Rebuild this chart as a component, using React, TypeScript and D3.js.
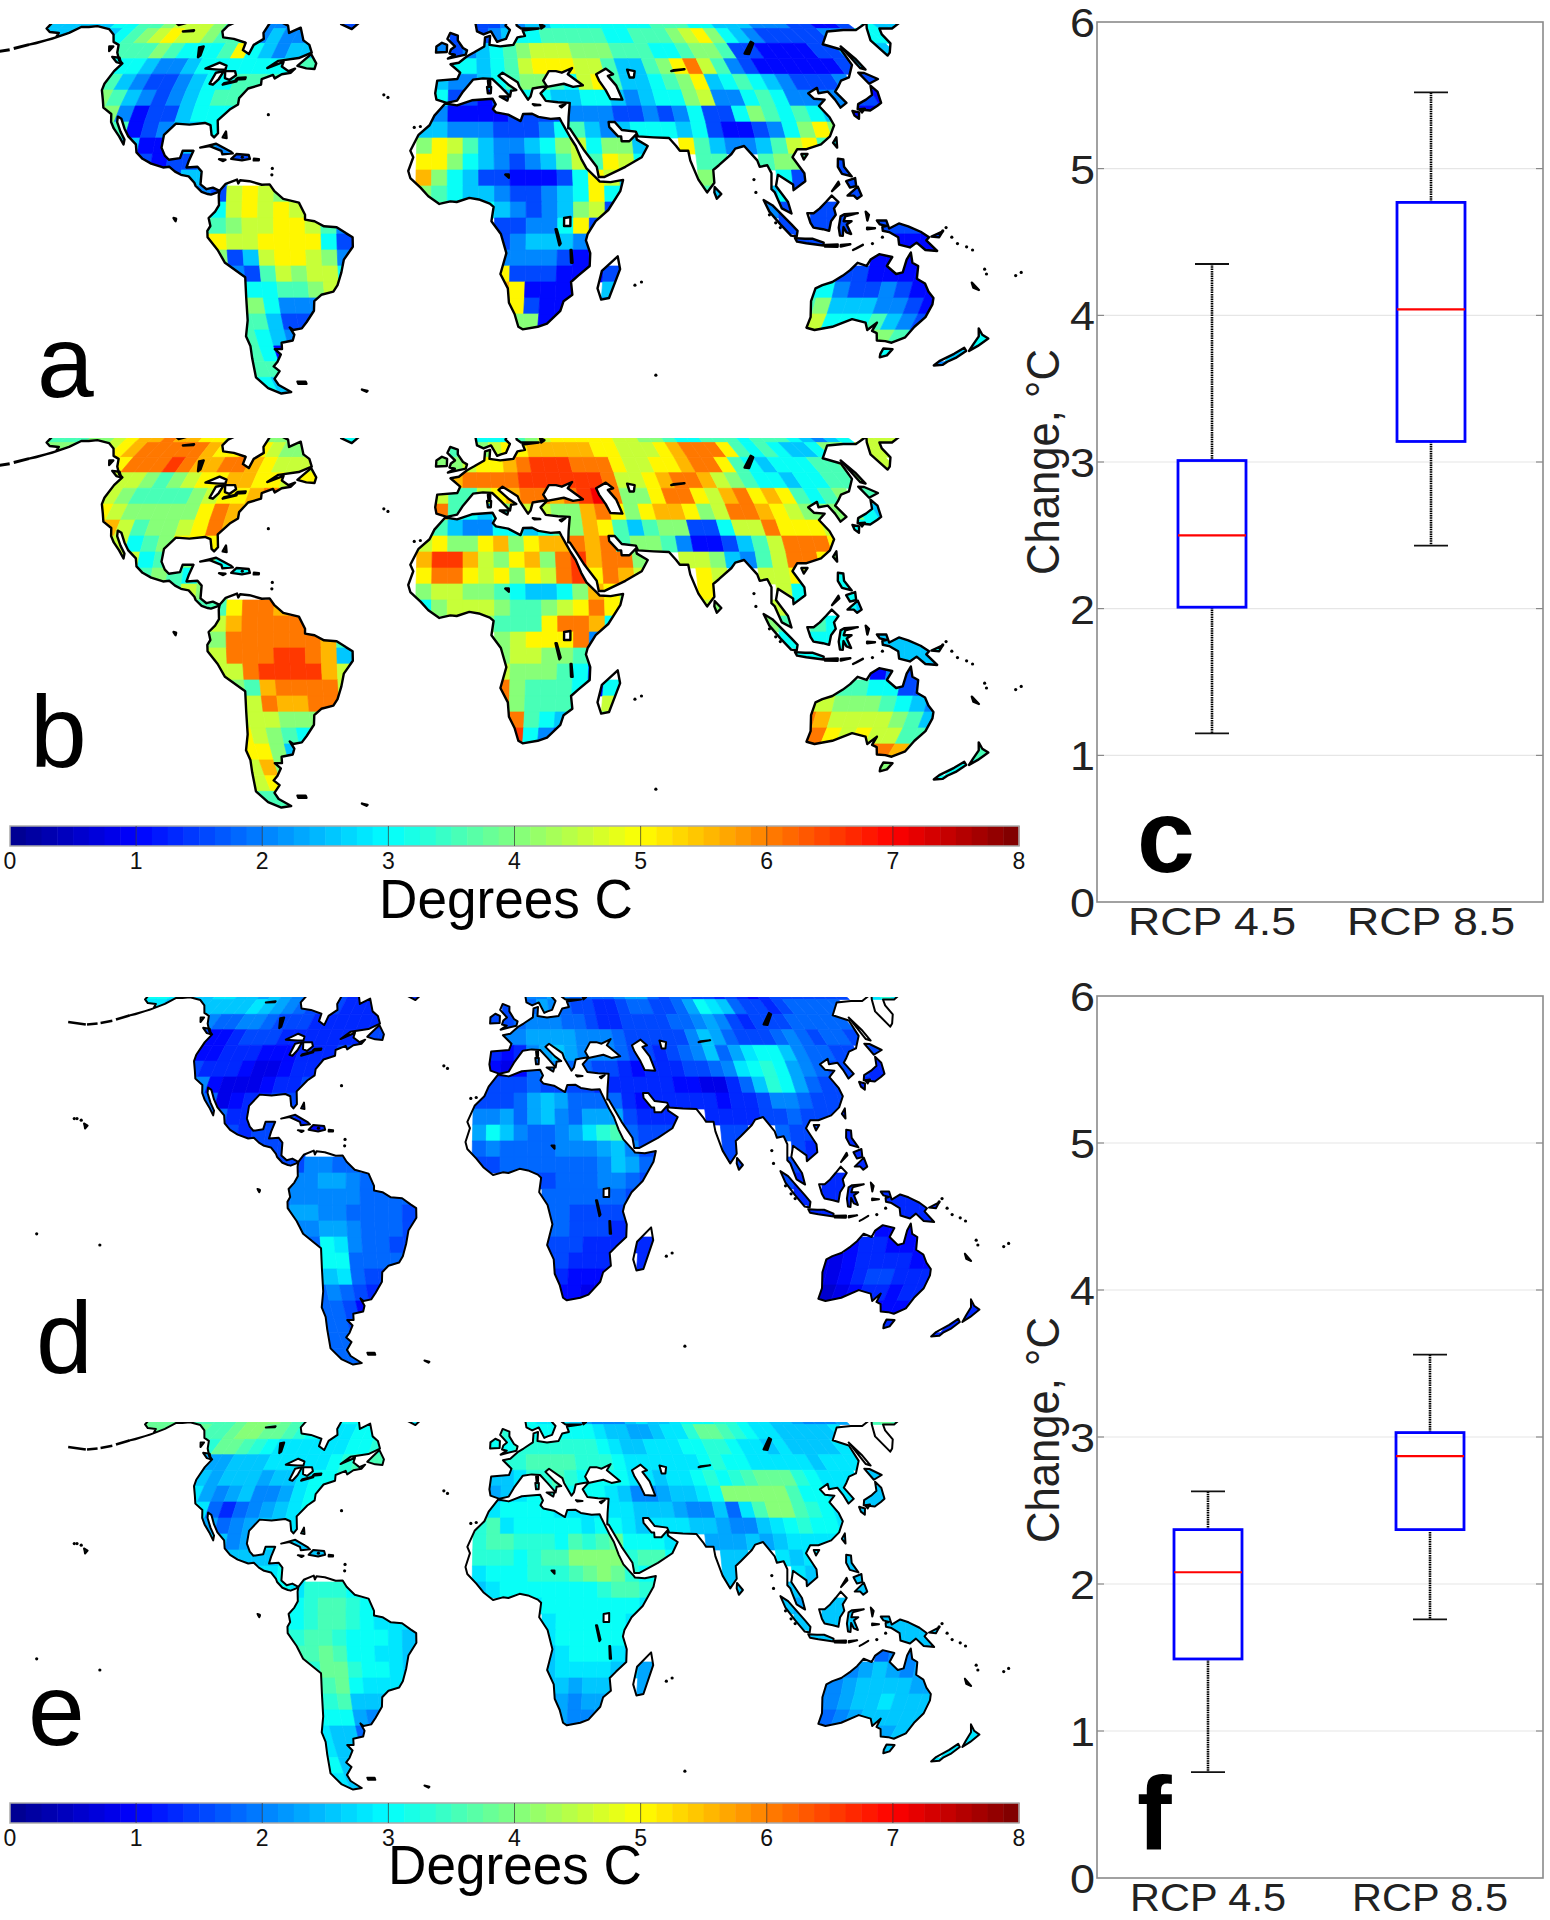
import React from 'react';
import * as d3 from 'd3';

type Pt = [number, number];
type Row = [number, number, string];

// Robinson projection table, 5 degree steps
const robinsonLats = d3.range(0, 95, 5);
const robinsonLen = [1, 0.9986, 0.9954, 0.99, 0.9822, 0.973, 0.96, 0.9427, 0.9216, 0.8962, 0.8679, 0.835, 0.7986, 0.7597, 0.7186, 0.6732, 0.6213, 0.5722, 0.5322];
const robinsonDist = [0, 0.062, 0.124, 0.186, 0.248, 0.31, 0.372, 0.434, 0.4958, 0.5571, 0.6176, 0.6769, 0.7346, 0.7903, 0.8435, 0.8936, 0.9394, 0.9761, 1];

// Coastlines, [lon, lat]
const northAmerica: Pt[] = [[-168,66],[-164,66.5],[-162,64.5],[-165,64.5],[-166,62],[-165,60],[-162,58.8],[-158,58.5],[-157,57],[-162,55],[-164,54.6],[-158,56.5],[-154,58.5],[-152,60.5],[-149,60.5],[-146,60.8],[-140,59.8],[-136,58],[-133,55.5],[-130,54.5],[-128,52],[-125,49.5],[-123,48.5],[-124,46],[-124.5,42],[-124,40],[-122,37],[-120.5,34.5],[-117,32.5],[-116,30],[-114.5,28],[-112,25.5],[-110,23],[-110,24.5],[-112,27],[-114,30],[-114.5,31.7],[-113,31],[-111,28],[-109,25.5],[-106,23],[-105.3,20.5],[-103,18.5],[-100,17],[-96,15.8],[-94,16],[-92,14.5],[-90,13.5],[-87.5,13],[-85.5,11],[-85,10],[-83,8.2],[-81,7.5],[-80,7.3],[-78,8],[-77.3,8.5],[-79.5,9.5],[-81.5,9],[-83.5,10.5],[-83.5,14.5],[-85,16],[-88.5,15.8],[-88,18],[-87,21],[-90.5,21],[-91,18.7],[-94.5,18.2],[-96,19.5],[-97.5,22],[-97.5,26],[-94.5,29.5],[-90,29.2],[-85,29.7],[-83,29],[-82,26],[-81,25.2],[-80,26.5],[-81,30.5],[-78,33.9],[-75.7,35.5],[-76,37.5],[-74,40.5],[-70,41.7],[-70.5,43.5],[-67,44.8],[-66,43.7],[-64,45],[-61,45.5],[-60,46.8],[-62,46],[-65,47.5],[-65,49],[-70,47],[-67,49.3],[-60,50.2],[-56,52],[-58,54.5],[-61,56],[-64.5,60.3],[-68,58.5],[-70,61],[-74,62.3],[-78,62.4],[-78,58.5],[-76.5,56.5],[-79,54.5],[-79,51.5],[-82,52.8],[-82.5,55.2],[-88,56.5],[-92.5,57],[-94.5,59],[-94,61],[-90,63.5],[-88,64.5],[-86,66],[-86,72],[-168,72]];
const southAmerica: Pt[] = [[-77.3,8.5],[-75.5,10.7],[-72,12],[-71.5,10.8],[-71,11.8],[-68,11.5],[-64,10.4],[-61.5,10.5],[-60,8.5],[-57,6],[-52,4.8],[-50,1],[-50,-0.5],[-47,-1],[-44,-2.6],[-40,-2.9],[-37,-4.8],[-35,-6],[-35,-9],[-38,-13],[-39,-17],[-40.5,-21],[-42,-23],[-46,-24],[-48.5,-26],[-49,-29],[-52,-32.5],[-54,-34.5],[-57,-35],[-58,-34.2],[-57,-36.5],[-58,-38.3],[-62,-39],[-62.5,-41],[-65,-41],[-63.5,-42.7],[-65.5,-45],[-67.5,-46.5],[-66,-48],[-69,-50.5],[-68.5,-52.5],[-65,-54.8],[-69,-55.3],[-73,-53.5],[-75.5,-50],[-74,-44],[-73,-40],[-73.5,-37],[-71.5,-32],[-70.5,-25],[-70,-18.5],[-76,-14],[-78,-10],[-81,-6],[-81,-4],[-80,-2.5],[-80.5,0],[-78.5,2],[-77.3,4],[-77.5,7]];
const africa: Pt[] = [[-6,35.8],[-2,35.2],[3,36.8],[10,37.3],[11,35.5],[10,34],[11,33],[15,32.3],[19,30.3],[20,32.5],[23,32.6],[25,31.6],[29,31],[32,31.2],[32.5,30],[33.5,28],[35,25],[36.5,22.5],[38,18.5],[39.5,15.5],[43,12],[43.5,11.4],[47,11.2],[51,11.9],[50,8.5],[46,2.5],[42,-1],[39.5,-5],[39,-7],[40.5,-11],[40.5,-15],[37,-18],[34.8,-20],[35.5,-24],[32.8,-26],[32,-29],[28,-33],[25,-34],[20,-34.8],[18.5,-34],[17,-30],[15,-26.5],[14.5,-22],[12,-17.5],[13.8,-11],[12,-5],[9,-1],[9.7,3.5],[8.5,4.5],[5,5.8],[2,6.3],[-2,5],[-4,5.2],[-7.5,4.4],[-11,6.8],[-13.5,9.5],[-16.8,12.5],[-17.5,14.7],[-16,19],[-17,21],[-14.5,26],[-11,29],[-9.5,32]];
const eurasia: Pt[] = [[-9,37],[-9.5,39],[-9,43],[-2,43.5],[-1,45.5],[-4.5,48.2],[-1.5,48.7],[1.5,50.8],[4,52],[8,54],[8.5,57],[10.5,57.5],[10,54.5],[14,54],[19,54.5],[21,57],[24,57.5],[23.5,59.3],[30,60],[23,60],[21.5,61],[21.5,63],[25,65.3],[22,65.5],[18,62.5],[17,61],[18.5,59.5],[16.5,56.5],[14.5,56],[13,55.5],[11,59],[8,58],[5.5,59],[5,62],[10,64.5],[13,67],[30,72],[60,72],[120,74],[170,72],[180,68],[180,65],[178,62.5],[170,60],[165,60],[163,58],[162,55],[158,52],[156,51],[155.8,56],[160,60],[163,62],[155,59.5],[150,59.5],[143,59],[136,54.7],[141,53],[140,48],[135.5,44],[132,43],[129.5,41],[127.5,39.5],[129.3,36],[126.5,34.5],[126,37],[125,39.5],[121.5,39],[122,40.7],[118,39],[119,37.3],[122.5,37],[119.5,35],[121.5,31.5],[122,29],[119.5,25.5],[116,23],[111,21.5],[108,21.5],[106,19],[109,14],[109,11.5],[105,8.7],[105,10.5],[102,12.5],[100.5,13.5],[99.5,10],[103,5],[104,1.4],[101,3],[99,8],[98,9],[98.5,14],[97.5,16.5],[95,16],[94.5,18],[91,22.5],[88,21.7],[86.5,20],[82,16.5],[80,15],[80,11],[77.5,8],[75,12],[73,18],[72.7,21],[70,21],[69,22.5],[67,25],[62,25.2],[57,25.5],[56.5,27],[52,27.5],[50,30],[48,30],[48,28.5],[50.5,25.5],[51.5,25.5],[51.5,24],[54,24],[56.3,26],[56.5,24.5],[59.8,22.5],[57.5,19],[52,16],[45,12.8],[43.3,12.8],[42.8,16],[39.2,21],[36.5,25.5],[35,28],[34.5,28],[35,31.5],[36,36],[32,36.2],[28,36.6],[26.5,39],[29,41],[35,42],[38,41],[41.5,41.5],[37,45],[39,47],[35,45.5],[33,46],[30.5,46],[28,43],[29,41.2],[26,40.8],[24,40.5],[23,38],[22,37],[19.5,41],[19,42.5],[14,45.5],[12.5,44.5],[16,41.5],[18.3,40],[16.5,39.8],[16,38],[13,41],[10.3,43.5],[7,43.7],[3.5,43.3],[0,39.5],[-2,36.7],[-5.5,36]];
const islands: Pt[][] = [
  [[-52,65],[-49,61.5],[-44,59.8],[-41,63],[-38,66],[-52,67]],
  [[-78,65],[-73,62.5],[-66,62],[-64,65],[-60,67],[-80,67]],
  [[-24,65],[-22,63.8],[-18,63.4],[-14,65],[-20,66.5]],
  [[-128.5,50.6],[-125.5,50.3],[-123.5,48.5],[-125.5,48.9]],
  [[-133,54],[-131.5,54],[-131.5,52.5]],
  [[-59.5,47.7],[-56,51.5],[-53,48.5],[-53,46.7],[-56,46.9]],
  [[-5.5,50],[1,51.3],[1.5,52.7],[0,53.5],[-2,56],[-2,57.6],[-5,58.5],[-6,56.5],[-3,54],[-4.5,53],[-5,51.7],[-3,51.3]],
  [[-10,52],[-6,52.2],[-6,54.5],[-8,55.2],[-10,54]],
  [[8.3,41],[9.7,41],[9.5,39],[8.5,39]],
  [[8.7,43],[9.5,43],[9.4,41.5],[8.8,41.5]],
  [[12.5,38],[15.5,38],[15,36.7]],
  [[23.5,35.6],[26,35.3],[24,35.2]],
  [[32.5,35],[34.5,35.6],[33,34.6]],
  [[-85,22],[-80,23.2],[-75,20.8],[-74.2,20.2],[-77.5,19.9],[-78,21],[-82,22.5]],
  [[-74.5,18.5],[-73,20],[-69,19.7],[-68.5,18.5],[-71,18]],
  [[-78.4,18.4],[-76.3,18.2],[-77,17.8]],
  [[-67.2,18.5],[-65.6,18.4],[-65.6,18],[-67.2,18]],
  [[-78.2,25.2],[-77.5,27],[-76.9,25]],
  [[-61,-51.4],[-58,-51.4],[-58,-52.1],[-61,-52.1]],
  [[-38,-54],[-36,-54.4],[-36.5,-54.7]],
  [[49.3,-12],[50.3,-16],[47.5,-25],[45,-25.5],[43.5,-22],[44.5,-16.5]],
  [[80,9.7],[82,7.5],[80.5,6],[79.8,8]],
  [[121.5,25.2],[121,22],[120,23.5]],
  [[109,20],[111,20],[109.5,18.3]],
  [[142,54],[143,50],[143.5,46.5],[142,47]],
  [[140,45.5],[142,45.4],[145.3,43.5],[141,42]],
  [[141,41.4],[142,39.5],[141,36],[139,35],[136,33.6],[132,34],[133,35.6],[136.5,37],[139.5,38.5]],
  [[130,33.5],[132,33],[131,31],[130,32]],
  [[132.5,34],[134.5,34.2],[133,33]],
  [[95.3,5.6],[98,4],[104,-2],[106,-4],[105.8,-5.8],[104,-5.5],[100.5,-2],[97,2]],
  [[105.3,-6.3],[108.5,-6.5],[111,-6.5],[114.5,-7.7],[114.5,-8.6],[109,-7.9],[106,-7.4]],
  [[115,-8.4],[119,-8.3],[119,-9],[115,-8.9]],
  [[120,-8.4],[123,-8.2],[120,-8.9]],
  [[124,-10],[127,-8.4],[125,-9.5]],
  [[109,1.5],[111,1.5],[113,3],[115,5],[117,7],[119,5],[117.5,3],[118,1],[116.5,-1],[116,-4],[114,-3.5],[111,-3],[110,-1.5]],
  [[119.5,0.5],[120.8,1.2],[125,1.5],[121,0.5],[120.5,-1],[123,-1],[121.5,-2],[123,-5],[121.5,-4.5],[120.5,-2.8],[120.4,-5.6],[119.5,-5.5],[119,-3]],
  [[127.5,2],[128.5,1],[128,-0.8]],
  [[128,-3],[130.5,-3.2],[128,-3.5]],
  [[131,-0.8],[134,-0.8],[135,-3.3],[138,-1.7],[141,-2.6],[145,-4.3],[147.8,-6],[147,-7],[150.8,-10.3],[147,-10],[144,-7.7],[142,-9.2],[138.5,-8.3],[138,-6],[135,-4.4],[133,-4],[132.8,-2.8],[134,-2.5],[132,-2]],
  [[148.5,-5.8],[152,-4.2],[151,-6]],
  [[120.5,18.5],[122.2,18.3],[122,16],[124,13],[121,13.8],[120,16]],
  [[122,7],[125.5,9.8],[126.5,7],[125,6],[124,7]],
  [[122,11.5],[125,12.5],[125,10],[123,9.5]],
  [[117.2,8.4],[119.5,11.3],[119.7,10.5]],
  [[114,-22],[113.5,-26],[115,-31],[115,-34.3],[118,-35],[123.5,-34],[129,-31.6],[134,-32.7],[135.7,-35],[137.8,-32.7],[137.5,-35.3],[139.5,-36],[141,-38.3],[144,-38.5],[146.5,-39],[150,-37.3],[151,-34],[153,-31],[153.5,-27],[153,-25],[150.8,-23],[149,-20.5],[146,-19],[145.5,-15],[143.5,-14],[142.5,-10.8],[141.5,-13],[141,-17],[139,-17.5],[135.5,-15],[136.8,-12.2],[132.5,-11.3],[130,-13],[129,-15],[126,-14],[124,-16.3],[122,-18],[119,-20],[116,-21]],
  [[145,-40.8],[148.3,-41],[148,-43],[146,-43.6],[145.3,-42.5]],
  [[172.7,-40.6],[174.3,-41.6],[172.8,-43.8],[171,-45],[170.5,-46],[167.5,-46.2],[168,-44.8],[171,-42.5]],
  [[172.8,-34.5],[175.5,-36.5],[178.5,-37.7],[176.8,-40],[175.3,-41.6],[174.8,-39.5],[174.7,-37]],
  [[164,-20.2],[167,-22.5],[165,-21.8]],
  [[-156.5,20.5],[-155,19.8],[-155.7,18.9],[-156,19.6]],
  [[-91.6,0],[-90.8,-0.2],[-91,-1]],
];
const aleutians: Pt[][] = [[[-164,54.6],[-168,53.3]],[[-169,52.9],[-173,52.2]],[[-174,52],[-178,51.7]],[[-178.5,51.7],[-187,52.5]]];
// larger lakes, outlined and left white
const openLakes: Pt[][] = [
  [[-92,46.8],[-88,48.7],[-85,47.8],[-84.7,46.5],[-87,46.5]],
  [[-88,42],[-87.5,45.5],[-85,46],[-85.5,43.5],[-86.7,41.7]],
  [[-84.5,46],[-81,46],[-80,44.7],[-81.7,43.2],[-83.5,43.8]],
  [[-83.3,41.7],[-79,42.8],[-79,43],[-83,42.2]],
  [[-79.5,43.3],[-76.3,43.5],[-76.3,44],[-79,43.8]],
  [[47,45],[51,46.8],[53,45],[51,44.5],[53,41.5],[54,37],[50,37.2],[49,40],[47.5,43]],
  [[58.5,46.5],[61,46],[60,44],[58.5,44]],
  [[32,0],[34,0.3],[34,-2.5],[32,-2.5]],
];
// narrow lakes, which come out solid black in the picture
const darkLakes: Pt[][] = [
  [[-99,53.7],[-97.5,54],[-96.5,51],[-97,50.5]],
  [[-116,62],[-112,62.8],[-110,62.5],[-114,61.2]],
  [[-110,59],[-106,59.4],[-106,59.1]],
  [[74,46],[79,46.6],[75,46.3]],
  [[104,51.7],[109.5,55.5],[110,55],[105.5,51.5]],
  [[29.3,-3.5],[29.7,-3.5],[31,-8],[30.6,-8.5]],
  [[34.2,-10],[34.5,-10],[35,-14],[34.5,-14]],
  [[13.5,13.6],[14.6,13.6],[14.6,12.6]],
  [[31,61.5],[32.5,60.8],[31,60]],
];
const smallIslands: Pt[] = [[-27,38.5],[-25.5,37.7],[-16,28.3],[-14,28.6],[-64.7,32.3],[-61,15.5],[-61,13.5],[-91,-0.5],[55.5,-21],[57.5,-20],[70,-49.3],[92.7,12],[93,8],[160,-9],[162,-10],[157,-8],[155,-6],[167,-16],[168,-17.5],[177.5,-18],[179,-17],[-150,-17.5],[-159.5,22],[-160.5,22],[-157.8,21.5],[-172,-14],[-71,19],[152,-4],[153,-3],[130,-8],[133,-6],[97,1],[99,-1.5],[100.5,-3]];

// Panel grids: [top latitude, west longitude of the first 5 degree cell, values]
// each character is a base 36 digit, in units of 0.5 C (a, b) or 0.25 C (d, e)
const rowsA: Row[] = [
  [65,-165,'5555566778999876544444.333'],[60,-165,'5555556789a9987764544'],[55,-165,'5555'],[55,-130,'777876667a654556'],[50,-130,'6665445666666677'],[45,-125,'75433456677777'],[40,-125,'87543456777'],[35,-125,'8842335666'],[30,-120,'772345566'],[25,-115,'552245544'],[20,-105,'32334333'],[15,-95,'3555'],[10,-90,'5439a98'],[5,-80,'69a9a98'],[0,-85,'77899aa9744'],[-5,-85,'aa99aaaa632'],[-10,-80,'8359aa9843'],[-15,-80,'6437989964'],[-20,-75,'666778986'],[-25,-75,'88644466'],[-30,-75,'7753344'],[-35,-75,'765433'],[-40,-80,'77623'],[-45,-80,'77755'],[-50,-80,'66533'],
  [65,5,'334455666666667776655544433223.655'],[60,-5,'3.34566777776677789a86543333344.66'],[55,-10,'4345678999888777667887332222335555'],[50,-5,'665679aaa9975578ac974322222235'],[45,-10,'54456788769a755678a5676543334.33'],[40,-10,'6332356655665456689446764444332'],[35,-10,'422223333444334346336876765.22'],[30,-15,'55444333467545666563223468a8'],[25,-15,'8a9754456896885..a7544579a76'],[20,-15,'aa8654345797a96...77..7886.3'],[15,-15,'b8653322236a95....87...63..3'],[10,-15,'87655433456a64....75..563..33'],
  [5,5,'654345893'],[5,95,'43.3333'],[0,10,'33446a3'],[0,100,'33333333332'],[-5,10,'3455542'],[-5,105,'3333..2223'],[-10,10,'4444322'],[-10,110,'333.2222'],[-15,10,'a33322233'],[-15,120,'3322222'],[-20,10,'ba2222.54'],[-20,110,'664334322'],[-25,15,'a322..3'],[-25,110,'785554432'],[-30,15,'8822'],[-30,115,'96667543'],[-35,115,'65..8875'],[-35,170,'66'],[-40,145,'6....55'],[-45,165,'44'],
];
const rowsB: Row[] = [
  [65,-165,'777889abbcbbaa98888888'],[65,-50,'666'],[60,-165,'888889abcccccbaaba9888'],[55,-165,'8888'],[55,-130,'acccdcbbccba9999'],[50,-130,'9998789aabbaa9aa'],[45,-125,'98777789aabccc'],[40,-125,'a988888acba'],[35,-125,'bb97889acb'],[30,-120,'99678aaaa'],[25,-115,'996788866'],[20,-105,'78768666'],[15,-95,'7988'],[10,-90,'977accb'],[5,-80,'9bccccb'],[0,-85,'88ccccccb77'],[-5,-85,'99cccddcb53'],[-10,-80,'99cddddb96'],[-15,-80,'887bcccc97'],[-20,-75,'99cbbccb9'],[-25,-75,'99988899'],[-30,-75,'a987666'],[-35,-75,'aa8544'],[-40,-80,'99b83'],[-45,-80,'99a88'],[-50,-80,'77766'],
  [65,5,'666789aaaaa9988766777677765456.999'],[60,-5,'7.89aabbbbbaa999abccca767655688.99'],[55,-10,'889aabcdddccca99aabcca765666778899'],[50,-5,'bccccddddddc99abccb98766566778'],[45,-10,'9779abccbcdec88acca9bcaba7678.77'],[40,-10,'c765689988bca8abba89ccba9888865'],[35,-10,'7544665678ba7578833699caaa9.66'],[30,-15,'9a88ab8abbcbc78874223579ccca'],[25,-15,'bddb98ab8cdbcc8..9985479cca8'],[20,-15,'acca9a8a9cdacb9...a9..99a8.6'],[15,-15,'89988765568ba8....a9...96..6'],[10,-15,'6899987789aca7....98..996..65'],
  [5,5,'8777accb6'],[5,95,'87.7666'],[0,10,'89aaac4'],[0,100,'66666655555'],[-5,10,'8998874'],[-5,105,'6666..5556'],[-10,10,'9888763'],[-10,110,'777.2433'],[-15,10,'c87776267'],[-15,120,'7766334'],[-20,10,'c87776.98'],[-20,110,'998887654'],[-25,15,'c765..7'],[-25,110,'cb9999875'],[-30,15,'d643'],[-30,115,'ca9a9977'],[-35,115,'88..ccb8'],[-35,170,'77'],[-40,145,'8....66'],[-45,165,'66'],
];
const rowsD: Row[] = [
  [65,-165,'ccbbaabbaa9a9876665555'],[65,-50,'555'],[60,-165,'bbaaaaaaaaba9876665555'],[55,-165,'aaaa'],[55,-130,'8778876665555556'],[50,-130,'6445666555555566'],[45,-125,'44555444555666'],[40,-125,'65554334556'],[35,-125,'8843334556'],[30,-120,'773455666'],[25,-160,'55'],[25,-115,'775566654'],[20,-160,'55'],[20,-105,'65666545'],[15,-95,'6666'],[10,-90,'6668877'],[5,-80,'8899877'],[0,-95,'6'],[0,-85,'78888877777'],[-5,-95,'6'],[-5,-85,'89988777765'],[-10,-80,'8899877766'],[-15,-80,'77cb877666'],[-20,-75,'ccc777766'],[-25,-75,'aab76666'],[-30,-75,'7876555'],[-35,-75,'776455'],[-40,-80,'77766'],[-45,-80,'77777'],[-50,-80,'77777'],
  [65,5,'88987777899767766565456666666..bdb'],[60,-5,'6.798766556776679cba7665677777'],[55,-10,'667888776556666778986566677777'],[50,-5,'8899998887666668a976667876776'],[45,-10,'54589a98887665678a79bcca87766.66'],[40,-10,'4347887766545556678bcdc98766655'],[35,-10,'66676666555555443357adc9766.55'],[30,-15,'66679a9777754555554556887666'],[25,-15,'88979a879996555..55556676665'],[20,-15,'9ca87789bde7666...66..7666.5'],[15,-15,'7877778889a866....66...65..5'],[10,-15,'6677777778a976....66..665..55'],
  [5,5,'667778876'],[5,95,'65.5555'],[0,10,'7777776'],[0,100,'55555555555'],[-5,10,'7766666'],[-5,105,'5555..5555'],[-10,10,'7766655'],[-10,110,'555.4445'],[-15,10,'666555555'],[-15,120,'4554444'],[-20,10,'665555.55'],[-20,110,'334555544'],[-25,15,'5444..5'],[-25,110,'334566555'],[-30,15,'4434'],[-30,115,'23455455'],[-35,115,'33..4445'],[-35,170,'55'],[-40,145,'5....55'],[-45,165,'55'],
];
const rowsE: Row[] = [
  [65,-165,'ffffeeeefgggfedccccccc'],[65,-50,'bbb'],[60,-165,'ffffffeefggffedccbbccd'],[55,-165,'ffff'],[55,-130,'dffedcbbbbbbccde'],[50,-130,'999aaabbbbbcdeee'],[45,-125,'a9aaa9aabccddd'],[40,-125,'b989a889bcc'],[35,-125,'bb75789abc'],[30,-120,'99789aabc'],[25,-160,'bb'],[25,-115,'aa89bbba8'],[20,-160,'bb'],[20,-105,'aaaabaaa'],[15,-95,'bbcc'],[10,-90,'ccbdddc'],[5,-80,'cdeedcc'],[0,-95,'b'],[0,-85,'ccdeedcbbbb'],[-5,-95,'b'],[-5,-85,'ddeedcccba7'],[-10,-80,'eefeccbba8'],[-15,-80,'ddffdccbaa'],[-20,-75,'eefcbbbbb'],[-25,-75,'ddeaaaaa'],[-30,-75,'ccc9899'],[-35,-75,'baa788'],[-40,-80,'bbaa9'],[-45,-80,'ccabb'],[-50,-80,'bbaa9'],
  [65,5,'cbbba9888abaabcccddcbbaa98889..efe'],[60,-5,'d.ccccccbaa99abbdffedcbbaaaaab'],[55,-10,'ccdddddddcbaabbbccddcbbabaaaabb'],[50,-5,'ddeeeedddcbbbbbbcdccbbbbbabbb'],[45,-10,'aabddedccccbbabbcdcdefffdcbbb.aa'],[40,-10,'9abcddcccba889aabcgggggeccbbaaa'],[35,-10,'bccccbbbbbbaaa988a7beggedcb.aa'],[30,-15,'debcccccbccbabbbaa988abcdccb'],[25,-15,'deedddcedefcccb..999a9abbbba'],[20,-15,'dddcdeeggggdeec...aa..babb.a'],[15,-15,'bcccdddefgfdcc....aa...ba..a'],[10,-15,'abcccccccdeedc....aa..aa9..aa'],
  [5,5,'bcccccccb'],[5,95,'a9.aaaa'],[0,10,'bcccccb'],[0,100,'aaaaaaaaaaa'],[-5,10,'bcccccb'],[-5,105,'aaaa..aaaa'],[-10,10,'abcccba'],[-10,110,'aaa.7889'],[-15,10,'abbbbaa99'],[-15,120,'89a9899'],[-20,10,'aa9aa9.99'],[-20,110,'889aaaa99'],[-25,15,'9899..9'],[-25,110,'889aabaaa'],[-30,15,'9889'],[-30,115,'789aaaaa'],[-35,115,'88..99aa'],[-35,170,'bb'],[-40,145,'a....bb'],[-45,165,'bb'],
];

const colorbarTicks = [0, 1, 2, 3, 4, 5, 6, 7, 8];
const boxLabels = ['RCP 4.5', 'RCP 8.5'];
// whisker low, Q1, median, Q3, whisker high
const boxStatsC = [[1.15, 2.01, 2.5, 3.01, 4.35], [2.43, 3.14, 4.04, 4.77, 5.52]];
const boxStatsF = [[0.72, 1.49, 2.08, 2.37, 2.63], [1.76, 2.37, 2.87, 3.03, 3.56]];

const sans = '"Liberation Sans", Arial, sans-serif';
const narrow = '"Liberation Sans Narrow", "Liberation Sans", sans-serif';

const lenScale = d3.scaleLinear().domain(robinsonLats).range(robinsonLen);
const distScale = d3.scaleLinear().domain(robinsonLats).range(robinsonDist);

// jet colormap split in 64 steps, as in the colorbar
const jet = d3.scaleLinear<string>()
  .domain([0, 1, 3, 5, 7, 8])
  .range(['#00008c', '#0000ff', '#00ffff', '#ffff00', '#ff0000', '#7a0000'])
  .clamp(true);
const jetStep = (v: number) => jet((Math.min(63, Math.floor(v * 8)) + 0.5) / 8);

const makeProjection = (x0: number, kx: number, y0: number) => ([lon, lat]: Pt): Pt => {
  const a = Math.abs(lat);
  return [x0 + kx * lon * lenScale(a), y0 - 258 * distScale(a) * Math.sign(lat)];
};

const MapPanel = ({ id, rows, unit, x0, kx, y0, top, lineWidth }: any) => {
  const project = makeProjection(x0, kx, y0);
  const closed = d3.line<Pt>().x(d => project(d)[0]).y(d => project(d)[1]).curve(d3.curveLinearClosed);
  const open = d3.line<Pt>().x(d => project(d)[0]).y(d => project(d)[1]);
  const land = [northAmerica, southAmerica, africa, eurasia, ...islands];
  const cells: { d: string; color: string }[] = [];
  (rows as Row[]).forEach(([lat, lon, values]) => {
    values.split('').forEach((ch, i) => {
      if (ch === '.') return;
      const w = lon + i * 5;
      const quad: Pt[] = [[w, lat], [w + 5, lat], [w + 5, lat - 5], [w, lat - 5]];
      cells.push({ d: closed(quad) as string, color: jetStep(parseInt(ch, 36) * unit) });
    });
  });
  return (
    <g>
      <defs>
        <clipPath id={`frame-${id}`}><rect x={0} y={top} width={1060} height={400} /></clipPath>
        <clipPath id={`land-${id}`}>{land.map((p, i) => <path key={i} d={closed(p) as string} />)}</clipPath>
      </defs>
      <g clipPath={`url(#frame-${id})`}>
        <g clipPath={`url(#land-${id})`}>
          {cells.map((c, i) => <path key={i} d={c.d} fill={c.color} stroke={c.color} strokeWidth={0.7} />)}
        </g>
        {land.map((p, i) => <path key={i} d={closed(p) as string} fill="none" stroke="#000" strokeWidth={lineWidth} strokeLinejoin="round" />)}
        {openLakes.map((p, i) => <path key={i} d={closed(p) as string} fill="#fff" stroke="#000" strokeWidth={lineWidth} strokeLinejoin="round" />)}
        {darkLakes.map((p, i) => <path key={i} d={closed(p) as string} fill="#000" stroke="#000" strokeWidth={lineWidth} strokeLinejoin="round" />)}
        {aleutians.map((p, i) => <path key={i} d={open(p) as string} fill="none" stroke="#000" strokeWidth={lineWidth + 0.6} />)}
        {smallIslands.map((p, i) => <circle key={i} cx={project(p)[0]} cy={project(p)[1]} r={1.6} fill="#000" />)}
      </g>
    </g>
  );
};

const Colorbar = ({ top, labelX, labelY }: { top: number; labelX: number; labelY: number }) => {
  const x = d3.scaleLinear().domain([0, 8]).range([10, 1019]);
  const h = 20;
  return (
    <g>
      {d3.range(64).map(i => (
        <rect key={i} x={x(i / 8)} y={top} width={x((i + 1) / 8) - x(i / 8) + 0.5} height={h} fill={jetStep((i + 0.5) / 8)} />
      ))}
      <rect x={10} y={top} width={1009} height={h} fill="none" stroke="#aaa" strokeWidth={1.5} />
      {colorbarTicks.map(t => (
        <g key={t}>
          {t > 0 && t < 8 && <line x1={x(t)} x2={x(t)} y1={top} y2={top + h} stroke="#333" strokeOpacity={0.7} />}
          <text x={x(t)} y={top + 43} textAnchor="middle" fontFamily={narrow} fontSize={23} fill="#111">{t}</text>
        </g>
      ))}
      <text x={labelX} y={labelY} textAnchor="middle" fontFamily={sans} fontSize={55} textLength={254} lengthAdjust="spacingAndGlyphs" fill="#000">Degrees C</text>
    </g>
  );
};

const BoxPanel = ({ top, bottom, stats, letter, letterY, centers, labelMid, labelWidth }: any) => {
  const left = 1097;
  const right = 1543;
  const y = d3.scaleLinear().domain([0, 6]).range([bottom, top]);
  const x = d3.scaleLinear().domain([1, 2]).range(centers);
  const halfBox = 34;
  const halfCap = 17;
  const ticks = y.ticks(6);
  return (
    <g>
      {ticks.slice(1, -1).map(t => (
        <g key={t}>
          <line x1={left} x2={right} y1={y(t)} y2={y(t)} stroke="#e6e6e6" strokeWidth={1.2} />
          <line x1={left} x2={left + 7} y1={y(t)} y2={y(t)} stroke="#777" />
          <line x1={right - 7} x2={right} y1={y(t)} y2={y(t)} stroke="#777" />
        </g>
      ))}
      <rect x={left} y={top} width={right - left} height={bottom - top} fill="none" stroke="#8a8a8a" strokeWidth={1.6} />
      {ticks.map(t => (
        <text key={t} x={left - 2} y={y(t) + 15} textAnchor="end" fontFamily={sans} fontSize={41} textLength={25} lengthAdjust="spacingAndGlyphs" fill="#222">{t}</text>
      ))}
      {(stats as number[][]).map(([lo, q1, med, q3, hi], i) => {
        const cx = x(i + 1);
        return (
          <g key={i}>
            <line x1={cx} x2={cx} y1={y(hi)} y2={y(q3)} stroke="#000" strokeWidth={2.6} strokeDasharray="1.5 0.8" />
            <line x1={cx} x2={cx} y1={y(q1)} y2={y(lo)} stroke="#000" strokeWidth={2.6} strokeDasharray="1.5 0.8" />
            <line x1={cx - halfCap} x2={cx + halfCap} y1={y(hi)} y2={y(hi)} stroke="#111" strokeWidth={1.8} />
            <line x1={cx - halfCap} x2={cx + halfCap} y1={y(lo)} y2={y(lo)} stroke="#111" strokeWidth={1.8} />
            <rect x={cx - halfBox} y={y(q3)} width={halfBox * 2} height={y(q1) - y(q3)} fill="none" stroke="#0000ff" strokeWidth={2.8} />
            <line x1={cx - halfBox} x2={cx + halfBox} y1={y(med)} y2={y(med)} stroke="#ff0000" strokeWidth={2.2} />
            <text x={cx} y={bottom + 33} textAnchor="middle" fontFamily={sans} fontSize={39} textLength={labelWidth} lengthAdjust="spacingAndGlyphs" fill="#222">{boxLabels[i]}</text>
          </g>
        );
      })}
      <text transform={`translate(1059,${labelMid}) rotate(-90)`} textAnchor="middle" fontFamily={sans} fontSize={46} textLength={226} lengthAdjust="spacingAndGlyphs" fill="#222">Change, °C</text>
      <text x={1137} y={letterY} fontFamily={sans} fontWeight="bold" fontSize={104} fill="#000">{letter}</text>
    </g>
  );
};

const PanelLetter = ({ x, y, t }: { x: number; y: number; t: string }) => (
  <text x={x} y={y} fontFamily={sans} fontSize={102} fill="#000">{t}</text>
);

export default function App() {
  return (
    <svg width={1550} height={1920} viewBox="0 0 1550 1920" style={{ position: 'absolute', left: 0, top: 0, background: '#fff' }}>
      <MapPanel id="a" rows={rowsA} unit={0.5} x0={463} kx={3.16} y0={218} top={24} lineWidth={2.4} />
      <MapPanel id="b" rows={rowsB} unit={0.5} x0={463} kx={3.16} y0={632} top={438} lineWidth={2.4} />
      <MapPanel id="d" rows={rowsD} unit={0.25} x0={514} kx={2.8} y0={1189} top={997} lineWidth={2} />
      <MapPanel id="e" rows={rowsE} unit={0.25} x0={514} kx={2.8} y0={1614} top={1422} lineWidth={2} />
      <PanelLetter x={37} y={397} t="a" />
      <PanelLetter x={30} y={767} t="b" />
      <PanelLetter x={36} y={1373} t="d" />
      <PanelLetter x={28} y={1745} t="e" />
      <Colorbar top={826} labelX={506} labelY={918} />
      <Colorbar top={1803} labelX={515} labelY={1884} />
      <BoxPanel top={22} bottom={902} stats={boxStatsC} letter="c" letterY={872} centers={[1212, 1431]} labelMid={462} labelWidth={168} />
      <BoxPanel top={996} bottom={1878} stats={boxStatsF} letter="f" letterY={1849} centers={[1208, 1430]} labelMid={1430} labelWidth={156} />
    </svg>
  );
}
